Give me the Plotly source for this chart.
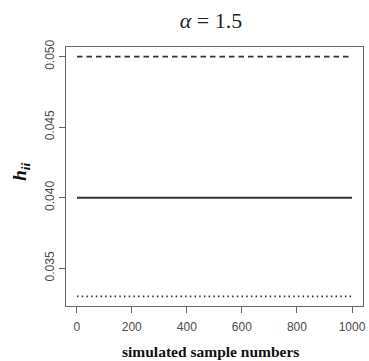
import plotly.graph_objects as go

# Simulated sample index and the three leverage reference levels
sample_numbers = list(range(1, 1001))
h_upper = 0.050
h_middle = 0.040
h_lower = 0.033

x_ticks = [0, 200, 400, 600, 800, 1000]
y_ticks = [0.035, 0.040, 0.045, 0.050]
y_tick_labels = ["0.035", "0.040", "0.045", "0.050"]

line_color = "#333333"
n = len(sample_numbers)

fig = go.Figure()
fig.add_trace(go.Scatter(x=sample_numbers, y=[h_upper] * n, mode="lines",
                         line=dict(color=line_color, width=1.8, dash="5.5px,4px"),
                         showlegend=False, hoverinfo="skip"))
fig.add_trace(go.Scatter(x=sample_numbers, y=[h_middle] * n, mode="lines",
                         line=dict(color=line_color, width=2),
                         showlegend=False, hoverinfo="skip"))
fig.add_trace(go.Scatter(x=sample_numbers, y=[h_lower] * n, mode="lines",
                         line=dict(color=line_color, width=1.6, dash="1.5px,3.2px"),
                         showlegend=False, hoverinfo="skip"))

# R-style 4% padding around the data range
x_min, x_max = 1, 1000
x_pad = 0.04 * (x_max - x_min)
y_min, y_max = h_lower, h_upper
y_pad = 0.04 * (y_max - y_min)

axis_common = dict(showgrid=False, zeroline=False, showline=True, mirror=True,
                   linecolor="#666666", linewidth=1, ticks="outside", ticklen=6,
                   tickcolor="#666666", tickwidth=1,
                   tickfont=dict(family="Liberation Sans", size=12, color="#4a4a4a"))

fig.update_layout(
    width=369, height=361,
    margin=dict(l=66, r=3, t=47, b=55),
    plot_bgcolor="white", paper_bgcolor="white",
    title=dict(text="<i>α</i> = 1.5", xref="container", yref="container",
               x=211 / 369, xanchor="center", y=1 - 20 / 361, yanchor="middle",
               font=dict(family="Liberation Serif", size=22, color="#222222")),
    xaxis=dict(range=[x_min - x_pad, x_max + x_pad], tickvals=x_ticks,
               ticklabelstandoff=4, **axis_common),
    yaxis=dict(range=[y_min - y_pad, y_max + y_pad], tickvals=y_ticks,
               ticktext=y_tick_labels, tickangle=-90, **axis_common),
    annotations=[
        dict(text="<b>simulated sample numbers</b>", xref="paper", yref="paper",
             x=0.485, y=-0.135, xanchor="center", yanchor="top", showarrow=False,
             font=dict(family="Liberation Serif", size=15.5, color="#111111")),
        dict(text="<b><i>h</i></b><sub><b><i>ii</i></b></sub>", xref="paper", yref="paper",
             x=-0.15, y=0.52, xanchor="center", yanchor="middle", textangle=-90,
             showarrow=False,
             font=dict(family="Liberation Serif", size=19, color="#111111")),
    ],
)

fig.write_html("out.html")
